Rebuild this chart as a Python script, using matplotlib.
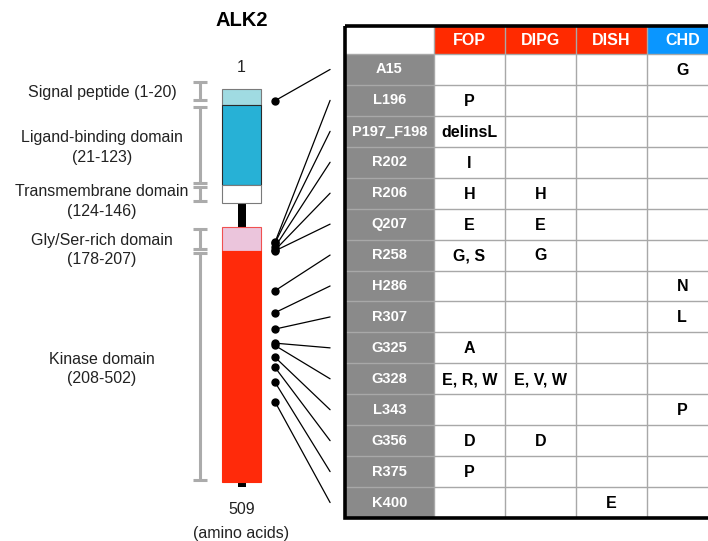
import numpy as np
import matplotlib.pyplot as plt
from matplotlib.patches import Rectangle, ConnectionPatch

plt.rcParams['font.family'] = ['Liberation Sans', 'DejaVu Sans']

# protein domains of ALK2 (amino acid ranges)
domains = ["Signal peptide", "Ligand-binding domain", "Transmembrane domain",
           "Gly/Ser-rich domain", "Kinase domain"]
dom_start = [1, 21, 124, 178, 208]
dom_end = [20, 123, 146, 207, 502]
protein_len = 509

# mutated residues and their position
residues = ["A15", "L196", "P197_F198", "R202", "R206", "Q207", "R258", "H286",
            "R307", "G325", "G328", "L343", "G356", "R375", "K400"]
positions = [15, 196, 197, 202, 206, 207, 258, 286, 307, 325, 328, 343, 356, 375, 400]

diseases = ["FOP", "DIPG", "DISH", "CHD"]
fop = ["", "P", "delinsL", "I", "H", "E", "G, S", "", "", "A", "E, R, W", "", "D", "P", ""]
dipg = ["", "", "", "", "H", "E", "G", "", "", "", "E, V, W", "", "D", "", ""]
dish = ["", "", "", "", "", "", "", "", "", "", "", "", "", "", "E"]
chd = ["G", "", "", "", "", "", "", "N", "L", "", "", "P", "", "", ""]
changes = [fop, dipg, dish, chd]

# styles
dom_fc = ['#a0dbe2', '#27b1d6', 'white', '#ebc5dc', '#ff2a0a']
dom_ec = ['#7a7a7a', '#2a2a2a', '#7a7a7a', '#f05050', '#ff2a0a']
head_fc = ['#ff2a00', '#ff2a00', '#ff2a00', '#0a96ff']
grey = '#8a8a8a'
grid_c = '#a8a8a8'

W, H = 708, 541
fig = plt.figure(figsize=(W / 100, H / 100), dpi=100)

# left part: x in pixels, y in amino acids (89 px at aa 0, 0.782 px per aa)
y0, k = 89, 0.782
ax = fig.add_axes([0, 0, 1, 1])
ax.set_xlim(0, W)
ax.set_ylim((H - y0) / k, -y0 / k)
ax.axis('off')

bar_x, bar_w, stem_w = 241.5, 39, 8
ax.add_patch(Rectangle((bar_x - stem_w / 2, 0), stem_w, protein_len, fc='black', ec='none', zorder=1))
for s, e, fc, ec in zip(dom_start, dom_end, dom_fc, dom_ec):
    ax.add_patch(Rectangle((bar_x - bar_w / 2, s - 1), bar_w, e - s + 1,
                           fc=fc, ec=ec, lw=0.8, zorder=2))

# grey brackets and labels
br_x = 200
label_y = [5, 75, 144, 206, 358]
for i, (s, e) in enumerate(zip(dom_start, dom_end)):
    top, bot = s - 1 + 2.5, e - 2.5
    if i == 0:
        top, bot = -9, 14
    ax.plot([br_x, br_x], [top, bot], color='#ababab', lw=2.2, solid_capstyle='butt', zorder=1)
    for yy in (top, bot):
        ax.plot([br_x - 7, br_x + 7], [yy, yy], color='#ababab', lw=2.2, solid_capstyle='butt')
    if i == 0:
        txt = "%s (%d-%d)" % (domains[i], s, e)
    else:
        txt = "%s\n(%d-%d)" % (domains[i], s, e)
    ax.text(102, label_y[i], txt, ha='center', va='center', fontsize=11.5,
            color='#222222', linespacing=1.4)

ax.text(bar_x, -88, "ALK2", ha='center', va='center', fontsize=14.5, fontweight='bold')
ax.text(bar_x, -28, "1", ha='center', va='center', fontsize=11.5, color='#222222')
ax.text(bar_x, 538, str(protein_len), ha='center', va='center', fontsize=11.5, color='#222222')
ax.text(bar_x, 568, "(amino acids)", ha='center', va='center', fontsize=11.5, color='#222222')

# table on the right (runs past the right edge)
col_w = [1.25, 1, 1, 1, 1]
col_x = np.concatenate([[0], np.cumsum(col_w)])
head_h = 0.905
n = len(residues)
tab_w = col_x[-1]
tab_h = head_h + n
ax2 = fig.add_axes([345 / W, 23 / H, tab_w * 71 / W, 492 / H])
ax2.set_xlim(0, tab_w)
ax2.set_ylim(tab_h, 0)
ax2.axis('off')

# header
for j, d in enumerate(diseases):
    ax2.add_patch(Rectangle((col_x[j + 1], 0), col_w[j + 1], head_h, fc=head_fc[j], ec='none'))
    ax2.text(col_x[j + 1] + col_w[j + 1] / 2, head_h / 2 + 0.03, d, ha='center', va='center',
             color='white', fontsize=11.5, fontweight='bold')

for i, r in enumerate(residues):
    yc = head_h + i + 0.5
    ax2.add_patch(Rectangle((0, head_h + i), col_w[0], 1, fc=grey, ec='none'))
    ax2.text(col_w[0] / 2, yc, r, ha='center', va='center', color='white',
             fontsize=10.5, fontweight='bold')
    for j in range(len(diseases)):
        v = changes[j][i]
        if v:
            ax2.text(col_x[j + 1] + col_w[j + 1] / 2, yc + 0.03, v, ha='center', va='center',
                     color='black', fontsize=11.5, fontweight='bold')

# grid lines
for yy in head_h + np.arange(0, n):
    ax2.plot([0, tab_w], [yy, yy], color=grid_c, lw=1, zorder=3)
for xx in col_x[1:-1]:
    ax2.plot([xx, xx], [0, tab_h], color=grid_c, lw=1, zorder=3)
ax2.add_patch(Rectangle((0, 0), tab_w + 0.3, tab_h, fc='none', ec='black', lw=2.6,
                        clip_on=False, zorder=5))

# mutation dots and connector lines
dot_x = 275
for i, p in enumerate(positions):
    ax.plot(dot_x, p, 'o', color='black', markersize=5, zorder=4)
    con = ConnectionPatch(xyA=(dot_x, p), coordsA=ax.transData,
                          xyB=(-0.21, head_h + i + 0.5), coordsB=ax2.transData,
                          color='black', lw=0.9)
    fig.add_artist(con)

plt.savefig('out.png', dpi=100)
